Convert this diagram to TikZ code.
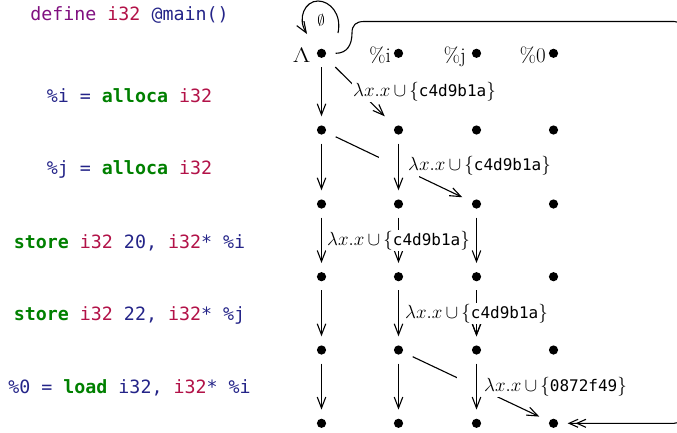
\RequirePackage{fix-cm}
\documentclass[tikz,border=0pt]{standalone}
\usepackage{fontspec}
\usepackage{graphicx}
\usetikzlibrary{arrows.meta}

\newfontfamily\codefont{DejaVu Sans Mono}
\newfontfamily\hexfont{DejaVu Sans Mono}

\definecolor{kwpurple}{RGB}{128,16,128}
\definecolor{tycrimson}{RGB}{178,18,72}
\definecolor{idnavy}{RGB}{36,36,136}
\definecolor{opgreen}{RGB}{0,128,0}

\newcommand{\ty}[1]{\textcolor{tycrimson}{#1}}
\newcommand{\idn}[1]{\textcolor{idnavy}{#1}}
\newcommand{\kw}[1]{\textcolor{opgreen}{\bfseries #1}}
\newcommand{\codesize}{\codefont\fontsize{18.3}{22}\selectfont}
\newcommand{\hexsize}{\hexfont\fontsize{16}{19}\selectfont}
\newcommand{\labsize}{\fontsize{19}{23}\selectfont}
\newcommand{\headsize}{\fontsize{21}{25}\selectfont}
\newcommand{\hexlab}[1]{$\lambda x.x\,{\cup}\,\{\mbox{\hexsize #1}\}$}

\tikzset{
  cell/.style={rectangle, minimum width=28pt, minimum height=27pt, inner sep=0pt},
  arr/.style={line width=1.1pt, -{Straight Barb[length=11pt,width=8.5pt]}},
  lab/.style={fill=white, inner sep=1pt, font=\labsize},
  xover/.style={preaction={draw=white, line width=40pt, -}},
  code/.style={anchor=base, inner sep=0pt, font=\codesize},
  head/.style={anchor=base east, inner sep=0pt, font=\headsize},
}

\begin{document}
\begin{tikzpicture}[x=1pt, y=1pt]
  \useasboundingbox (0,0) rectangle (677,-432);
  \clip (0,0) rectangle (677,-432);

  % instruction listing
  \node[code] (c0) at (129.5,-20.5) {\textcolor{kwpurple}{define} \ty{i32} \idn{@main()}};
  \node[code] (c1) at (129.5,-102) {\idn{\%i =} \kw{alloca} \ty{i32}};
  \node[code] (c2) at (129.5,-174) {\idn{\%j =} \kw{alloca} \ty{i32}};
  \node[code] (c3) at (129.5,-248) {\kw{store} \ty{i32} \idn{20,} \ty{i32}\idn{*} \idn{\%i}};
  \node[code] (c4) at (129.5,-320) {\kw{store} \ty{i32} \idn{22,} \ty{i32}\idn{*} \idn{\%j}};
  \node[code] (c5) at (129.5,-393) {\idn{\%0 =} \kw{load} \idn{i32,} \ty{i32}\idn{*} \idn{\%i}};

  % grid of states: rows = program points, columns = Lambda, %i, %j, %0
  \foreach \r/\y in {0/53.3, 1/130, 2/204, 3/276.7, 4/350, 5/423.3} {
    \foreach \c/\x in {0/321.5, 1/398.5, 2/476.5, 3/553.5} {
      \node[cell] (d\r\c) at (\x,-\y) {};
      \fill (\x,-\y) circle (4.6pt);
    }
  }

  % column headers
  \node[head] (hL) at (310.5,-62.5) {\scalebox{1.3}[1]{$\Lambda$}};
  \node[head] (hi) at (391,-62.5) {\%i};
  \node[head] (hj) at (466,-62.5) {\%j};
  \node[head] (h0) at (546,-62.5) {\%0};

  % self loop on Lambda
  \coordinate (loopout) at (338,-33);
  \coordinate (looptop) at (318,-1);
  \coordinate (loopin) at (307,-34);
  \draw[arr] (loopout) .. controls (342,-14) and (330,-1) .. (looptop)
             .. controls (305,-1) and (297,-18) .. (loopin);
  \node[font=\fontsize{15}{18}\selectfont] (empty) at (321,-20) {$\emptyset$};

  % plain vertical steps
  \foreach \a/\b in {00/10, 10/20, 20/30, 30/40, 40/50, 31/41, 41/51, 22/32, 32/42} {
    \draw[arr] (d\a) -- (d\b);
  }

  % diagonal steps
  \draw[arr] (d00) -- (d11);
  \draw[arr] (d10) -- (d22);
  \draw[arr] (d41) -- (d53);

  % steps that pass over the diagonals
  \draw[arr, xover] (d11) -- (d21);
  \draw[arr, xover] (d42) -- (d52);

  % labelled vertical steps
  \draw[arr] (d21) -- node[lab] {\hexlab{c4d9b1a}} (d31);
  \draw[arr] (d32) -- node[lab] {\hexlab{c4d9b1a}} (d42);

  % labels of the diagonal steps
  \path (d00) -- node[lab, anchor=west, xshift=-8pt] {\hexlab{c4d9b1a}} (d11);
  \path (d10) -- node[lab, anchor=west, xshift=8pt, yshift=1.5pt] {\hexlab{c4d9b1a}} (d22);
  \path (d41) -- node[lab, anchor=west, xshift=7pt] {\hexlab{0872f49}} (d53);

  % return edge from Lambda to the result %0
  \draw[line width=1.1pt, -{Straight Barb[length=9pt,width=8pt,sep=-3pt] Straight Barb[length=9pt,width=8pt]}]
    (d00.east) .. controls (347,-53.3) and (352,-45) .. (352,-33)
    .. controls (352,-25) and (356,-21.5) .. (364,-21.5)
    -- (674,-21.5) .. controls (679,-21.5) and (682,-25) .. (682,-30)
    -- (682,-415) .. controls (682,-420) and (679,-423.3) .. (674,-423.3)
    -- (d53.east);
\end{tikzpicture}
\end{document}
